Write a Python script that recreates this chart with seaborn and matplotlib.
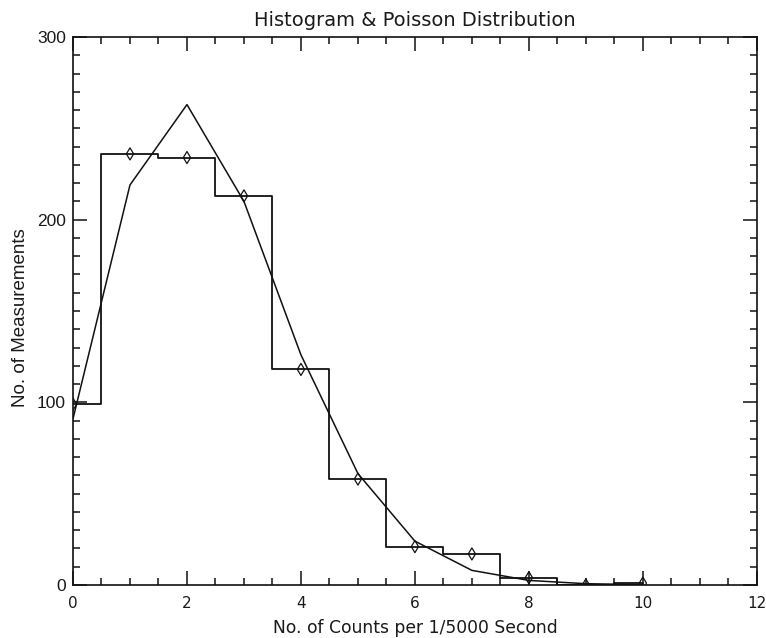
import matplotlib
matplotlib.use("Agg")
import matplotlib.pyplot as plt
from matplotlib.ticker import MultipleLocator
import seaborn as sns
import pandas as pd

# Observed counts per 1/5000 s interval and the fitted Poisson expectation
counts = [0, 1, 2, 3, 4, 5, 6, 7, 8, 9, 10]
measured = [99, 236, 234, 213, 118, 58, 21, 17, 4, 0, 1]
poisson = [91, 219, 263, 210, 126, 61, 24, 8, 2.5, 0.7, 0.2]

df = pd.DataFrame({"k": counts, "measured": measured, "poisson": poisson})

sns.set_theme(style="white")
plt.rcParams["font.family"] = ["DejaVu Sans"]

fig = plt.figure(figsize=(7.66, 6.38), dpi=100)
ax = fig.add_axes([0.0953, 0.0831, 0.8927, 0.8589])

ink = "#111111"
text_c = "#1a1a1a"
# histogram drawn as centred steps
sns.lineplot(data=df, x="k", y="measured", ax=ax, color=ink, lw=1.3,
             drawstyle="steps-mid", estimator=None)
# diamond markers at each bin value
sns.scatterplot(data=df, x="k", y="measured", ax=ax, marker="d", s=38,
                facecolor="none", edgecolor=ink, linewidth=0.9, zorder=3)
# Poisson curve
sns.lineplot(data=df, x="k", y="poisson", ax=ax, color=ink, lw=1.1,
             estimator=None)

ax.set_xlim(0, 12)
ax.set_ylim(0, 300)
ax.xaxis.set_major_locator(MultipleLocator(2))
ax.xaxis.set_minor_locator(MultipleLocator(0.5))
ax.yaxis.set_major_locator(MultipleLocator(100))
ax.yaxis.set_minor_locator(MultipleLocator(10))
ax.tick_params(which="both", direction="in", top=True, right=True,
               bottom=True, left=True, colors=ink, labelcolor=text_c)
ax.tick_params(which="major", length=10, width=1.1)
ax.tick_params(which="minor", length=5, width=1.1)
ax.tick_params(axis="x", labelsize=11, pad=8)
ax.tick_params(axis="y", labelsize=12.5, pad=5)
for lab in ax.get_yticklabels():
    lab.set_fontfamily(["Liberation Sans", "DejaVu Sans"])
for s in ax.spines.values():
    s.set_color(ink)
    s.set_linewidth(1.2)

ax.set_xlabel("No. of Counts per 1/5000 Second", fontsize=12.3,
              color=text_c)
ax.xaxis.set_label_coords(0.5, -0.062)
ax.set_ylabel("No. of Measurements", fontsize=13.5, color=text_c,
              family=["Liberation Sans", "DejaVu Sans"])
ax.yaxis.set_label_coords(-0.0775, 0.487)
ax.yaxis.label.set_va("center")
ax.set_title("Histogram & Poisson Distribution", fontsize=14,
             color=text_c, pad=8)

fig.savefig("out.png", dpi=100)
